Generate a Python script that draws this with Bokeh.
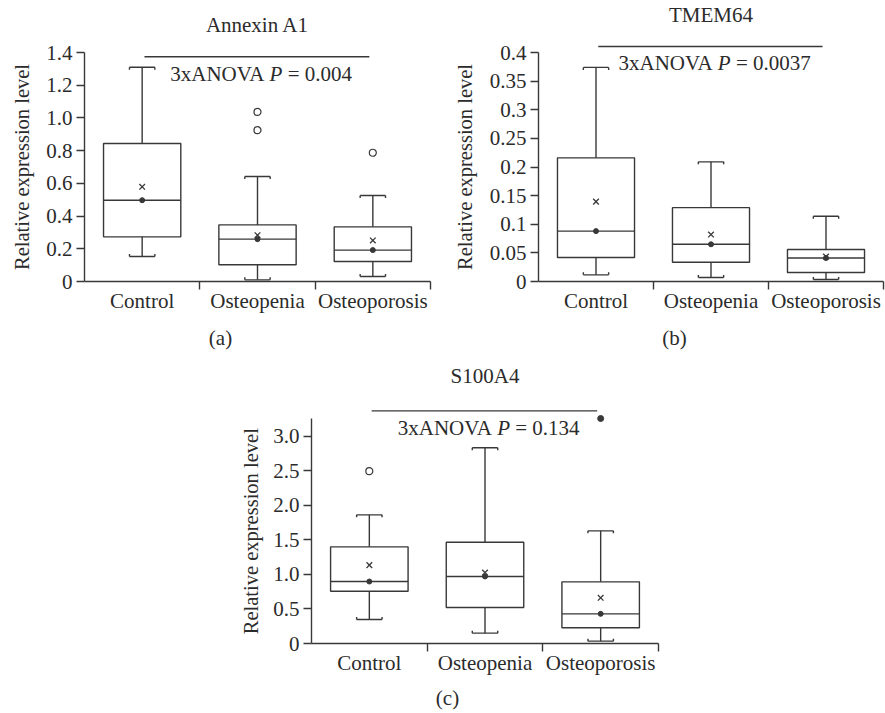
from bokeh.plotting import figure
from bokeh.layouts import column, row
from bokeh.models import Range1d, FixedTicker, Label, Spacer, LinearAxis
from bokeh.embed import file_html
from bokeh.resources import INLINE

categories = ["Control", "Osteopenia", "Osteoporosis"]

# (a) Annexin A1
annexin_hi = [1.310, 0.642, 0.526]
annexin_q3 = [0.844, 0.346, 0.334]
annexin_median = [0.497, 0.259, 0.192]
annexin_q1 = [0.273, 0.102, 0.122]
annexin_lo = [0.153, 0.010, 0.031]
annexin_mean = [0.579, 0.283, 0.251]
annexin_out_cat = ["Osteopenia", "Osteopenia", "Osteoporosis"]
annexin_out_val = [1.037, 0.925, 0.787]
annexin_ext_cat = []
annexin_ext_val = []
annexin_ticks = [0, 0.2, 0.4, 0.6, 0.8, 1.0, 1.2, 1.4]
annexin_tick_labels = ["0", "0.2", "0.4", "0.6", "0.8", "1.0", "1.2", "1.4"]

# (b) TMEM64
tmem_hi = [0.374, 0.209, 0.114]
tmem_q3 = [0.216, 0.129, 0.0558]
tmem_median = [0.088, 0.065, 0.041]
tmem_q1 = [0.042, 0.0337, 0.0157]
tmem_lo = [0.0116, 0.007, 0.0035]
tmem_mean = [0.1395, 0.082, 0.0436]
tmem_out_cat = []
tmem_out_val = []
tmem_ext_cat = []
tmem_ext_val = []
tmem_ticks = [0, 0.05, 0.1, 0.15, 0.2, 0.25, 0.3, 0.35, 0.4]
tmem_tick_labels = ["0", "0.05", "0.1", "0.15", "0.2", "0.25", "0.3", "0.35", "0.4"]

# (c) S100A4
s100_hi = [1.862, 2.832, 1.630]
s100_q3 = [1.399, 1.466, 0.892]
s100_median = [0.897, 0.970, 0.429]
s100_q1 = [0.757, 0.521, 0.227]
s100_lo = [0.347, 0.150, 0.034]
s100_mean = [1.134, 1.027, 0.661]
s100_out_cat = ["Control"]
s100_out_val = [2.494]
s100_ext_cat = ["Osteoporosis"]
s100_ext_val = [3.256]
s100_ticks = [0, 0.5, 1.0, 1.5, 2.0, 2.5, 3.0]
s100_tick_labels = ["0", "0.5", "1.0", "1.5", "2.0", "2.5", "3.0"]

titles = ["Annexin A1", "TMEM64", "S100A4"]
sublabels = ["(a)", "(b)", "(c)"]
p_values = ["0.004", "0.0037", "0.134"]
y_label = "Relative expression level"

LC = "#383838"
TC = "#2b2b2b"
FONT = "Liberation Serif"
FS = 21
LW = 1.4
LIFT = 5.0        # px correction for p-value baselines
TITLE_LIFT = 8.0  # px correction for title baselines

# approximate Times advance widths (em) for centring the mixed-style p-value text
_W = {"0": .5, "1": .5, "2": .5, "3": .5, "4": .5, "5": .5, "6": .5, "7": .5, "8": .5, "9": .5,
      ".": .25, "x": .5, "A": .722, "N": .722, "O": .722, "V": .722, "=": .564, " ": .25, "P": .611}


def tw(s):
    return sum(_W.get(c, .5) for c in s) * FS


def plain_axis(ticks, overrides, standoff, size):
    ax = LinearAxis(ticker=FixedTicker(ticks=ticks, minor_ticks=[]), major_label_overrides=overrides)
    ax.axis_line_color = None
    ax.major_tick_line_color = None
    ax.minor_tick_line_color = None
    ax.major_tick_out = 0
    ax.major_tick_in = 0
    ax.major_label_standoff = standoff
    ax.major_label_text_font = FONT
    ax.major_label_text_font_size = size
    ax.major_label_text_color = TC
    return ax


def make_panel(title, sub, pval, hi, q3, med, q1, lo, mean, out_cat, out_val, ext_cat, ext_val,
               ticks, tick_labels, g):
    W, H, bl, br, bb = g["W"], g["H"], g["bl"], g["br"], g["bb"]
    fw = W - bl - br
    fh = H - bb
    ppx = fw / 3.0
    ppy = g["cal_px"] / g["cal_val"]
    y_end = fh / ppy

    p = figure(width=W, height=H, x_range=Range1d(0, 3), y_range=Range1d(0, y_end),
               output_backend="svg", toolbar_location=None,
               min_border_left=bl, min_border_right=br, min_border_top=0, min_border_bottom=bb)
    p.grid.visible = False
    p.outline_line_color = None
    p.background_fill_color = "white"
    p.border_fill_color = "white"

    xs = [categories.index(c) + 0.5 for c in categories]
    bw = 0.67
    cap = 0.22
    tick_dy = 2.5 / ppy

    # boxes
    p.vbar(x=xs, bottom=q1, top=q3, width=bw, fill_color=None, line_color=LC, line_width=LW)
    # median line
    p.segment(x0=[x - bw / 2 for x in xs], x1=[x + bw / 2 for x in xs], y0=med, y1=med,
              line_color=LC, line_width=LW)
    # whiskers
    p.segment(x0=xs, x1=xs, y0=q3, y1=hi, line_color=LC, line_width=LW)
    p.segment(x0=xs, x1=xs, y0=q1, y1=lo, line_color=LC, line_width=LW)
    # caps
    p.segment(x0=[x - cap / 2 for x in xs], x1=[x + cap / 2 for x in xs], y0=hi, y1=hi,
              line_color=LC, line_width=LW)
    p.segment(x0=[x - cap / 2 for x in xs], x1=[x + cap / 2 for x in xs], y0=lo, y1=lo,
              line_color=LC, line_width=LW)
    # cap end ticks
    ex = [x + s * cap / 2 for x in xs for s in (-1, 1)]
    ehi = [v for v in hi for _ in (0, 1)]
    elo = [v for v in lo for _ in (0, 1)]
    p.segment(x0=ex, x1=ex, y0=ehi, y1=[v - tick_dy for v in ehi], line_color=LC, line_width=LW)
    p.segment(x0=ex, x1=ex, y0=elo, y1=[v + tick_dy for v in elo], line_color=LC, line_width=LW)
    # median dot and mean cross
    p.scatter(x=xs, y=med, marker="circle", size=5, fill_color=LC, line_color=LC)
    p.scatter(x=xs, y=mean, marker="x", size=8, line_color=LC, line_width=1.3)
    # outliers
    if out_cat:
        p.scatter(x=[categories.index(c) + 0.5 for c in out_cat], y=out_val, marker="circle",
                  size=7, fill_color="white", line_color=LC, line_width=1.2)
    if ext_cat:
        p.scatter(x=[categories.index(c) + 0.5 for c in ext_cat], y=ext_val, marker="circle",
                  size=6, fill_color=LC, line_color=LC)

    # significance bar
    sig_y = g["sig_y"]
    p.segment(x0=[0.52], x1=[2.47], y0=[sig_y], y1=[sig_y], line_color=LC, line_width=LW)

    def lab(text, x, y, align, italic=False, x_offset=0, size=FS):
        p.add_layout(Label(x=x, y=y, text=text, text_align=align, text_baseline="alphabetic",
                           x_offset=x_offset, text_font=FONT, text_font_size=f"{size}px",
                           text_color=TC, text_font_style="italic" if italic else "normal"))

    # p-value text: "3xANOVA P = value" with italic P
    left = "3xANOVA"
    right = "= " + pval
    sp = tw(" ")
    total = tw(left) + sp + tw("P") + sp + tw(right)
    cx = 1.52
    py = sig_y - (22.0 - LIFT) / ppy
    p_left = -total / 2 + tw(left) + sp
    lab(left, cx, py, "right", x_offset=p_left - sp)
    lab("P", cx, py, "left", italic=True, x_offset=p_left)
    lab(right, cx, py, "left", x_offset=p_left + tw("P") + sp)

    # panel title (inside the extended frame, above the axis end)
    lab(title, 1.5, (g["title_base"] + TITLE_LIFT) / ppy, "center")

    # axes
    xa = p.xaxis[0]
    ya = p.yaxis[0]
    xa.ticker = FixedTicker(ticks=xs, minor_ticks=[1, 2, 3])
    xa.major_label_overrides = {x: c for x, c in zip(xs, categories)}
    xa.major_tick_line_color = None
    xa.major_tick_out = 0
    xa.major_tick_in = 0
    xa.minor_tick_out = 8
    xa.minor_tick_in = 0
    xa.minor_tick_line_color = LC
    xa.minor_tick_line_width = LW
    xa.major_label_standoff = -1

    ya.ticker = FixedTicker(ticks=ticks, minor_ticks=[])
    ya.major_label_overrides = {t: s for t, s in zip(ticks, tick_labels)}
    ya.major_tick_out = 8
    ya.major_tick_in = 0
    ya.major_tick_line_color = LC
    ya.major_tick_line_width = LW
    ya.minor_tick_line_color = None
    ya.major_label_standoff = 4
    ya.bounds = (0, g["axis_top"])

    for ax in (xa, ya):
        ax.axis_line_color = LC
        ax.axis_line_width = LW
        ax.major_label_text_font = FONT
        ax.major_label_text_font_size = f"{FS}px"
        ax.major_label_text_color = TC

    # y title, centred on the drawn axis (0 .. axis_top)
    mid = g["axis_top"] / 2.0
    la = plain_axis([mid], {mid: y_label}, g["ylab_standoff"], "20.5px")
    la.major_label_orientation = "parallel"
    p.add_layout(la, "left")

    # sub-panel letter as an extra, line-less axis below the category axis
    sub_x = 136.0 / ppx
    sa = plain_axis([sub_x], {sub_x: sub}, g["sub_standoff"], f"{FS}px")
    p.add_layout(sa, "below")
    return p


ga = dict(W=440, H=360, bl=84, br=10, bb=79, cal_val=1.4, cal_px=229, axis_top=1.4,
          sig_y=1.374, title_base=249, sub_standoff=10, ylab_standoff=11)
gb = dict(W=445, H=360, bl=98, br=2, bb=79, cal_val=0.4, cal_px=229, axis_top=0.4,
          sig_y=0.4105, title_base=259, sub_standoff=10, ylab_standoff=11)
gc = dict(W=440, H=353, bl=81, br=12, bb=70, cal_val=3.0, cal_px=207.3, axis_top=3.25,
          sig_y=3.366, title_base=260, sub_standoff=8, ylab_standoff=8)

pa = make_panel(titles[0], sublabels[0], p_values[0], annexin_hi, annexin_q3, annexin_median,
                annexin_q1, annexin_lo, annexin_mean, annexin_out_cat, annexin_out_val,
                annexin_ext_cat, annexin_ext_val, annexin_ticks, annexin_tick_labels, ga)
pb = make_panel(titles[1], sublabels[1], p_values[1], tmem_hi, tmem_q3, tmem_median,
                tmem_q1, tmem_lo, tmem_mean, tmem_out_cat, tmem_out_val,
                tmem_ext_cat, tmem_ext_val, tmem_ticks, tmem_tick_labels, gb)
pc = make_panel(titles[2], sublabels[2], p_values[2], s100_hi, s100_q3, s100_median,
                s100_q1, s100_lo, s100_mean, s100_out_cat, s100_out_val,
                s100_ext_cat, s100_ext_val, s100_ticks, s100_tick_labels, gc)

layout = column(row(pa, pb, spacing=0),
                row(Spacer(width=230, height=353), pc, spacing=0),
                spacing=0)

with open("out.html", "w") as f:
    f.write(file_html(layout, INLINE, title="Relative expression"))
